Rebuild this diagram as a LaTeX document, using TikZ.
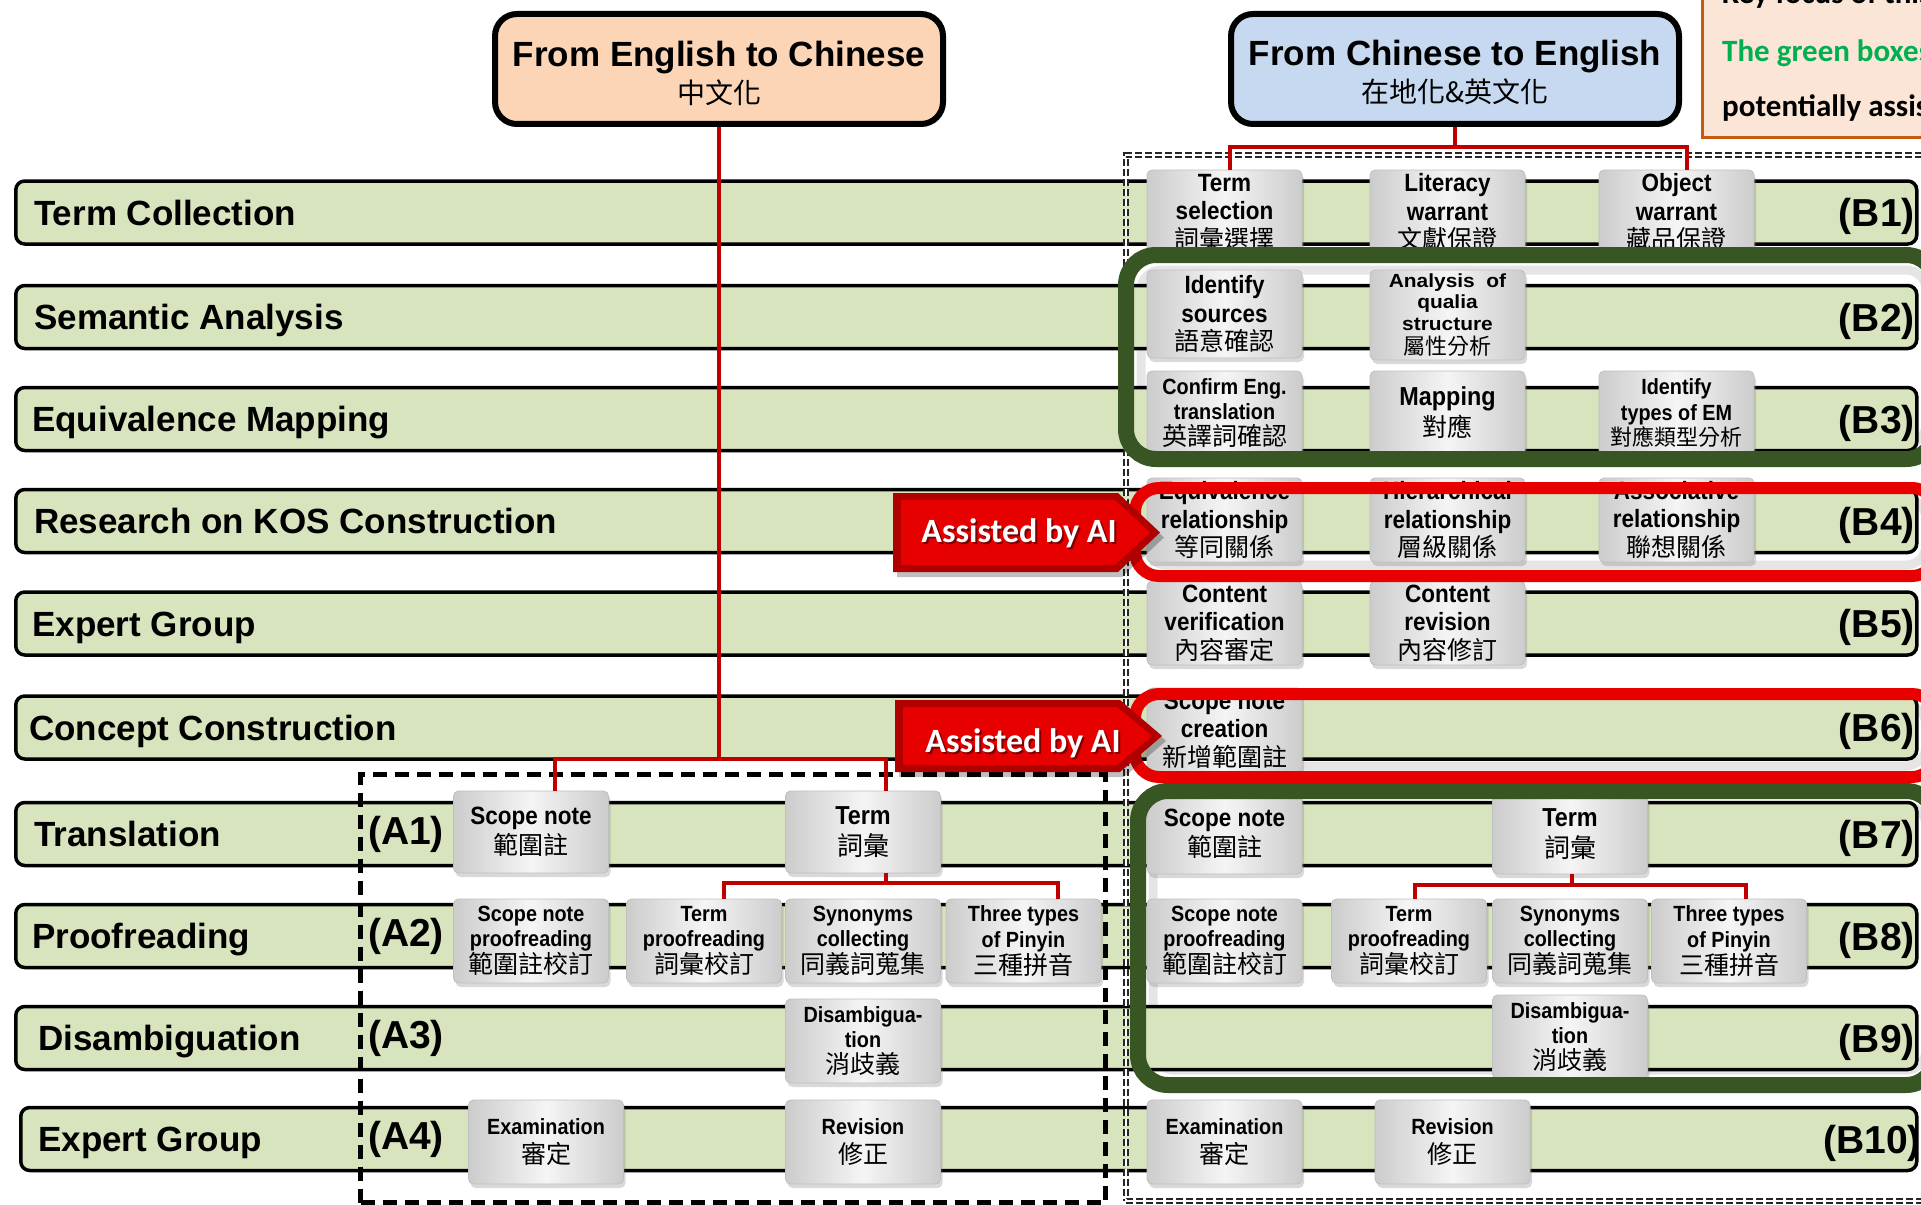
\documentclass[tikz,border=0pt]{standalone}
\usepackage{fontspec}
\setmainfont{Liberation Sans}
\newfontfamily\nb[FakeStretch=0.9]{Liberation Sans}
\newfontfamily\nbw[FakeStretch=1.1]{Liberation Sans}
\newfontfamily\cjk{Noto Sans CJK TC}
\newfontfamily\calib{Carlito}
\usetikzlibrary{shadows,calc}

\definecolor{rowgreen}{HTML}{D7E4BD}
\definecolor{hdrpeach}{HTML}{FBD5B5}
\definecolor{hdrblue}{HTML}{C6D9F0}
\definecolor{notefill}{HTML}{FBE5D6}
\definecolor{noteedge}{HTML}{C55A11}
\definecolor{notegreen}{HTML}{00B050}
\definecolor{frgreen}{HTML}{375623}
\definecolor{frred}{HTML}{E80000}
\definecolor{conred}{HTML}{C00000}
\definecolor{aidark}{HTML}{B00000}
\definecolor{ailight}{HTML}{E60000}

\newcommand\cj{\cjk\mdseries}
\newcommand\cjt[1]{{\cj #1}}
\newcommand\fsA{\nb\bfseries\fontsize{25}{28.5}\selectfont}
\newcommand\fsB{\nb\bfseries\fontsize{22}{25.5}\selectfont}
\newcommand\fsC{\nb\bfseries\fontsize{26}{31}\selectfont}

\tikzset{
  rowbar/.style={draw=black, line width=3.5pt, fill=rowgreen, rounded corners=9pt,
    minimum width=1901pt, minimum height=63pt, inner sep=0pt, anchor=west},
  rowlabel/.style={font=\bfseries\fontsize{35}{40}\selectfont, anchor=base west, inner sep=0pt},
  tag/.style={font=\bfseries\fontsize{39}{44}\selectfont, inner sep=0pt},
  gbox/.style={rounded corners=5pt, minimum width=155pt, minimum height=84pt, inner sep=0pt,
    align=center, draw=gray!50, line width=0.8pt,
    left color=gray!40, right color=gray!40, middle color=gray!8,
    drop shadow={opacity=0.3, shadow xshift=2pt, shadow yshift=-4pt}},
  conn/.style={draw=conred, line width=4pt},
  hdr/.style={draw=black, line width=6pt, rounded corners=22pt, minimum width=448pt,
    minimum height=110pt, align=center, inner sep=0pt},
  gframe/.style={draw=frgreen, line width=16pt, rounded corners=30pt},
  rframe/.style={draw=frred, line width=12pt, rounded corners=24pt},
  band/.style={draw=gray!20, line width=9pt, rounded corners=20pt},
  dashA/.style={draw=black, line width=5pt, dash pattern=on 14pt off 8pt, inner sep=0pt},
  dashB/.style={draw=black!85, line width=2pt, double=white, double distance=1.4pt,
    dash pattern=on 7pt off 3pt, inner sep=0pt},
  aitext/.style={font=\calib\bfseries\fontsize{34}{40}\selectfont, anchor=base, inner sep=0pt},
  notetext/.style={font=\calib\bfseries\fontsize{31}{36}\selectfont, anchor=base west, inner sep=0pt},
}

\begin{document}
\begin{tikzpicture}[x=1pt,y=-1pt]
\path[use as bounding box] (0,0) rectangle (1921,1204);
\clip (0,0) rectangle (1921,1204);

% inner bevel bands of frames
\draw[band] (1141,270) rectangle (1926,444);
\draw[band] (1153,806) rectangle (1926,1070);
\draw[band] (1146,499) rectangle (1926,565);
\draw[band] (1146,705) rectangle (1926,766);

% row bars
\node[rowbar] (r1) at (14,212.5) {};
\node[rowbar] (r2) at (14,317) {};
\node[rowbar] (r3) at (14,419) {};
\node[rowbar] (r4) at (14,521) {};
\node[rowbar] (r5) at (14,623.5) {};
\node[rowbar] (r6) at (14,727.5) {};
\node[rowbar] (r7) at (14,834) {};
\node[rowbar] (r8) at (14,936) {};
\node[rowbar] (r9) at (14,1038) {};
\node[rowbar, minimum width=1896pt] (r10) at (19,1139) {};

% row labels
\node[rowlabel] (l1) at (34,225) {Term Collection};
\node[rowlabel] (l2) at (34,329.5) {Semantic Analysis};
\node[rowlabel] (l3) at (32,431.5) {Equivalence Mapping};
\node[rowlabel] (l4) at (34,533.5) {Research on KOS Construction};
\node[rowlabel] (l5) at (32,636) {Expert Group};
\node[rowlabel] (l6) at (29,740) {Concept Construction};
\node[rowlabel] (l7) at (34,846.5) {Translation};
\node[rowlabel] (l8) at (32,948.5) {Proofreading};
\node[rowlabel] (l9) at (38,1050.5) {Disambiguation};
\node[rowlabel] (l10) at (38,1151.5) {Expert Group};

% dashed group boxes
\node[dashA, anchor=north west, minimum width=745pt, minimum height=428pt] (boxA) at (358,772) {};
\node[dashB, anchor=north west, minimum width=830pt, minimum height=1046pt] (boxB) at (1125,154) {};

% A tags
\node[tag] (ta1) at (406,834) {(A1)};
\node[tag] (ta2) at (406,936) {(A2)};
\node[tag] (ta3) at (406,1038) {(A3)};
\node[tag] (ta4) at (406,1139) {(A4)};

% headers
\node[hdr, fill=hdrpeach] (hL) at (719,69) {};
\node[hdr, fill=hdrblue] (hR) at (1455,69) {};

% gray boxes: B side
\node[gbox, font=\fsA] (b1a) at (1224.5,212) {Term\\selection\\\cjt{詞彙選擇}};
\node[gbox, font=\fsA] (b1b) at (1447.5,212) {Literacy\\warrant\\\cjt{文獻保證}};
\node[gbox, font=\fsA] (b1c) at (1676.5,212) {Object\\warrant\\\cjt{藏品保證}};
\node[gbox, font=\fsA, minimum height=88pt] (b2a) at (1224.5,314) {Identify\\sources\\\cjt{語意確認}};
\node[gbox, font=\nbw\bfseries\fontsize{19}{21.5}\selectfont, minimum height=90pt] (b2b) at (1447.5,315) {Analysis\ \ of\\qualia\\structure\\[3pt]{\cj\fontsize{22}{24}\selectfont 屬性分析}};
\node[gbox, font=\fsB] (b3a) at (1224.5,413) {Confirm Eng.\\translation\\{\cj\fontsize{25}{28}\selectfont 英譯詞確認}};
\node[gbox, font=\fsC] (b3b) at (1447.5,413) {Mapping\\{\cj\fontsize{25}{28}\selectfont 對應}};
\node[gbox, font=\fsB] (b3c) at (1676.5,413) {Identify\\types of EM\\{\cj\fontsize{22}{26}\selectfont 對應類型分析}};
\node[gbox, font=\fsA] (b4a) at (1224.5,520) {Equivalence\\relationship\\\cjt{等同關係}};
\node[gbox, font=\fsA] (b4b) at (1447.5,520) {Hierarchical\\relationship\\\cjt{層級關係}};
\node[gbox, font=\fsA] (b4c) at (1676.5,520) {Associative\\relationship\\\cjt{聯想關係}};
\node[gbox, font=\fsA] (b5a) at (1224.5,623) {Content\\verification\\\cjt{內容審定}};
\node[gbox, font=\fsA] (b5b) at (1447.5,623) {Content\\revision\\\cjt{內容修訂}};
\node[gbox, font=\fsA] (b6a) at (1224.5,730) {Scope note\\creation\\\cjt{新增範圍註}};
\node[gbox, font=\fsA, minimum height=80pt] (b7a) at (1224.5,834) {Scope note\\[2pt]\cjt{範圍註}};
\node[gbox, font=\fsC, minimum height=80pt] (b7b) at (1570,834) {Term\\\cjt{詞彙}};
\node[gbox, font=\fsB] (b8a) at (1224.5,941) {Scope note\\proofreading\\{\cj\fontsize{25}{28}\selectfont 範圍註校訂}};
\node[gbox, font=\fsB] (b8b) at (1409,941) {Term\\proofreading\\{\cj\fontsize{25}{28}\selectfont 詞彙校訂}};
\node[gbox, font=\fsB] (b8c) at (1570,941) {Synonyms\\collecting\\{\cj\fontsize{25}{28}\selectfont 同義詞蒐集}};
\node[gbox, font=\fsB] (b8d) at (1729,941) {Three types\\of Pinyin\\{\cj\fontsize{25}{28}\selectfont 三種拼音}};
\node[gbox, font=\fsB] (b9a) at (1570,1037) {Disambigua-\\tion\\{\cj\fontsize{25}{28}\selectfont 消歧義}};
\node[gbox, font=\fsB] (b10a) at (1224.5,1142) {Examination\\[3pt]{\cj\fontsize{25}{28}\selectfont 審定}};
\node[gbox, font=\fsB] (b10b) at (1452.5,1142) {Revision\\[3pt]{\cj\fontsize{25}{28}\selectfont 修正}};

% gray boxes: A side
\node[gbox, font=\fsA, minimum height=82pt] (a1s) at (531,832) {Scope note\\[2pt]\cjt{範圍註}};
\node[gbox, font=\fsC, minimum height=82pt] (a1t) at (863,832) {Term\\\cjt{詞彙}};
\node[gbox, font=\fsB] (a2a) at (531,941) {Scope note\\proofreading\\{\cj\fontsize{25}{28}\selectfont 範圍註校訂}};
\node[gbox, font=\fsB] (a2b) at (704,941) {Term\\proofreading\\{\cj\fontsize{25}{28}\selectfont 詞彙校訂}};
\node[gbox, font=\fsB] (a2c) at (863,941) {Synonyms\\collecting\\{\cj\fontsize{25}{28}\selectfont 同義詞蒐集}};
\node[gbox, font=\fsB] (a2d) at (1023.5,941) {Three types\\of Pinyin\\{\cj\fontsize{25}{28}\selectfont 三種拼音}};
\node[gbox, font=\fsB] (a3) at (863,1041) {Disambigua-\\tion\\{\cj\fontsize{25}{28}\selectfont 消歧義}};
\node[gbox, font=\fsB] (a4a) at (546,1142) {Examination\\[3pt]{\cj\fontsize{25}{28}\selectfont 審定}};
\node[gbox, font=\fsB] (a4b) at (863,1142) {Revision\\[3pt]{\cj\fontsize{25}{28}\selectfont 修正}};

% red connectors
\coordinate (jL) at (hL.south |- 0,759);
\coordinate (jR) at (hR.south |- 0,147);
\coordinate (jA) at ($(a1t.south)+(23,10)$);
\coordinate (jB) at ($(b7b.south)+(2,11)$);
\draw[conn] (hL.south) -- (jL);
\draw[conn] ($(a1s.north)+(24,0)$) |- (jL) -| ($(a1t.north)+(23,0)$);
\draw[conn] (hR.south) -- (jR);
\draw[conn] ($(b1a.north)+(5,0)$) |- (jR) -| ($(b1c.north)+(10,0)$);
\draw[conn] ($(a1t.south)+(23,0)$) -- (jA);
\draw[conn] ($(a2b.north)+(20,0)$) |- (jA) -| ($(a2d.north)+(34,0)$);
\draw[conn] ($(b7b.south)+(2,0)$) -- (jB);
\draw[conn] ($(b8b.north)+(6,0)$) |- (jB) -| ($(b8d.north)+(17,0)$);

% frames
\draw[gframe] (1126,255) rectangle (1936,459);
\draw[gframe] (1138,791) rectangle (1936,1085);
\draw[rframe] (1135,488) rectangle (1936,576);
\draw[rframe] (1135,694) rectangle (1936,777);

% B tags
\node[tag, anchor=base east] (tb1) at (1915,226) {(B1)};
\node[tag, anchor=base east] (tb2) at (1915,331) {(B2)};
\node[tag, anchor=base east] (tb3) at (1915,433) {(B3)};
\node[tag, anchor=base east] (tb4) at (1915,535) {(B4)};
\node[tag, anchor=base east] (tb5) at (1915,637.5) {(B5)};
\node[tag, anchor=base east] (tb6) at (1915,741.5) {(B6)};
\node[tag, anchor=base east] (tb7) at (1915,848) {(B7)};
\node[tag, anchor=base east] (tb8) at (1915,950) {(B8)};
\node[tag, anchor=base east] (tb9) at (1915,1052) {(B9)};
\node[tag, anchor=base east] (tb10) at (1921,1153) {(B10)};

% Assisted by AI arrows
\fill[black, opacity=0.25] (897,498) -- (1122,498) -- (1164,537.5) -- (1122,577) -- (897,577) -- cycle;
\fill[aidark] (893,493) -- (1118,493) -- (1160,532.5) -- (1118,572) -- (893,572) -- cycle;
\fill[ailight] (901,500) -- (1115,500) -- (1150,532.5) -- (1115,565) -- (901,565) -- cycle;
\node[aitext, text=black, opacity=0.45] at (1021,544) {Assisted by AI};
\node[aitext, text=white] (ai1) at (1019,542) {Assisted by AI};

\fill[black, opacity=0.25] (899,705) -- (1124,705) -- (1166,741) -- (1124,777) -- (899,777) -- cycle;
\fill[aidark] (895,700) -- (1120,700) -- (1162,736) -- (1120,772) -- (895,772) -- cycle;
\fill[ailight] (903,707) -- (1117,707) -- (1152,736) -- (1117,765) -- (903,765) -- cycle;
\node[aitext, text=black, opacity=0.45] at (1025,754) {Assisted by AI};
\node[aitext, text=white] (ai2) at (1023,752) {Assisted by AI};

% header texts
\node[font=\bfseries\fontsize{35}{40}\selectfont, anchor=base, inner sep=0pt] (hLt) at (hL.center |- 0,67) {From English to Chinese};
\node[font=\cj\fontsize{28}{30}\selectfont, anchor=base, inner sep=0pt] (hLc) at (hL.center |- 0,104) {中文化};
\node[font=\bfseries\fontsize{35}{40}\selectfont, anchor=base, inner sep=0pt] (hRt) at (hR.center |- 0,66) {From Chinese to English};
\node[font=\cj\fontsize{28}{30}\selectfont, anchor=base, inner sep=0pt] (hRc) at (hR.center |- 0,103) {在地化\&英文化};

% note box
\node[draw=noteedge, line width=3pt, fill=notefill, anchor=north west, minimum width=300pt,
  minimum height=158pt, inner sep=0pt] (note) at (1701,-22) {};
\node[notetext] (n1) at (1722,4) {Key focus of this};
\node[notetext, text=notegreen] (n2) at (1722,62) {The green boxes};
\node[notetext] (n3) at (1722,117) {potentially assisted};
\end{tikzpicture}
\end{document}
